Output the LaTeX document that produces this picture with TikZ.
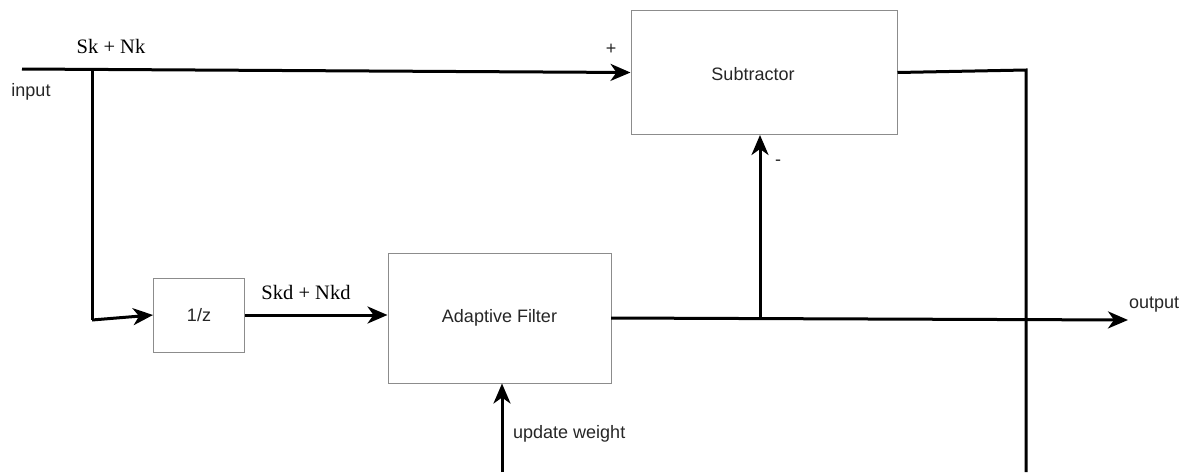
\documentclass[tikz,border=0pt]{standalone}
\usepackage{fontspec}
\setmainfont{Liberation Serif}
\newfontfamily\lbl{Liberation Sans}
\usetikzlibrary{arrows.meta}
\tikzset{
  blk/.style={draw=black!45, line width=1pt, fill=white, font=\lbl\fontsize{18}{21}\selectfont, text=black!85, inner sep=0pt},
  wire/.style={line width=3pt, line join=miter},
  arr/.style={wire, -{Stealth[length=20pt,width=17pt,inset=6pt]}},
  txt/.style={font=\lbl\fontsize{18}{21}\selectfont, text=black!85, inner sep=0pt},
  sig/.style={font=\fontsize{20.5}{24}\selectfont, inner sep=0pt}
}
\begin{document}
\begin{tikzpicture}[x=1pt,y=-1pt]
\useasboundingbox (0,0) rectangle (1192,472);
% blocks
\node[blk, minimum width=91pt, minimum height=74pt] (zinv) at (199,315) {1/z};
\node[blk, minimum width=223pt, minimum height=130pt] (af) at (499.5,318) {Adaptive Filter};
\node[blk, minimum width=266pt, minimum height=124pt] (sub) at (764,72.5) {};
\node[txt] (subl) at (753,74) {Subtractor};
% coordinates
\coordinate (in) at (22,69);
\coordinate (j1) at (92,69);
\coordinate (j1b) at (92,320);
\coordinate (afout) at (611,318);
\coordinate (out) at (1128,320);
\coordinate (j2) at (760,318.5);
\coordinate (fb1) at (1026,70);
\coordinate (fb2) at (1026,472);
\coordinate (upd) at (502,472);
% wires
\draw[arr] (in) -- (sub.west);
\draw[wire] (j1) -- (j1b);
\draw[arr] (j1b) -- (zinv.west);
\draw[arr] (zinv.east) -- (zinv.east -| af.west);
\draw[arr] (afout) -- (out);
\draw[arr] (j2) -- (j2 |- sub.south);
\draw[wire] (sub.east) -- (fb1) -- (fb2);
\draw[arr] (upd) -- (upd |- af.south);
% labels
\node[sig] (l1) at (111,46) {Sk + Nk};
\node[txt] (l2) at (31,92) {input};
\node[txt] (l3) at (611,49) {+};
\node[txt] (l4) at (778,163) {-};
\node[sig] (l5) at (306,292) {Skd + Nkd};
\node[txt, anchor=west] (l6) at (513,434) {update weight};
\node[txt, anchor=west] (l7) at (1129,305) {output};
\end{tikzpicture}
\end{document}
